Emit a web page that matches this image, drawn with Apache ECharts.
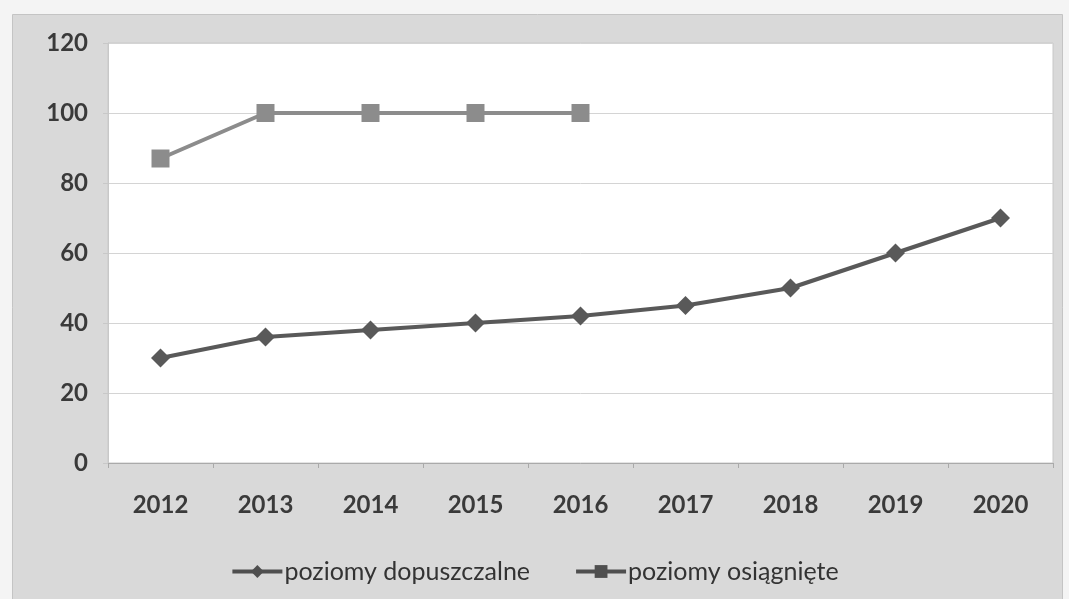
<!DOCTYPE html>
<html>
<head>
<meta charset="utf-8">
<script src="https://cdn.jsdelivr.net/npm/echarts@6/dist/echarts.min.js"></script>
<style>
  html, body { margin: 0; padding: 0; background: #f4f4f4; }
  #chart { width: 1069px; height: 599px; }
</style>
</head>
<body>
<div id="chart"></div>
<script>
// data
const years = ['2012', '2013', '2014', '2015', '2016', '2017', '2018', '2019', '2020'];
const dopuszczalne = [30, 36, 38, 40, 42, 45, 50, 60, 70];
const osiagniete = [87, 100, 100, 100, 100];
const seriesNames = ['poziomy dopuszczalne', 'poziomy osiągnięte'];

let chartDom = document.getElementById('chart');
let myChart = echarts.init(chartDom);
let option;

const font = 'Lato, "Open Sans", sans-serif';

option = {
  animation: false,
  backgroundColor: '#f4f4f4',
  graphic: [
    {
      type: 'rect',
      left: 12, top: 14, z: -10,
      shape: { width: 1050, height: 590 },
      style: { fill: '#d9d9d9', stroke: '#c4c4c4', lineWidth: 1 }
    }
  ],
  grid: {
    left: 108,
    top: 43,
    width: 945,
    height: 420,
    show: true,
    backgroundColor: '#ffffff',
    borderColor: '#c8c8c8',
    borderWidth: 1
  },
  legend: {
    bottom: 10,
    left: 'center',
    itemWidth: 50,
    itemHeight: 16,
    itemGap: 44,
    lineStyle: { width: 4, color: '#4f4f4f' },
    itemStyle: { color: '#4f4f4f' },
    textStyle: { fontFamily: font, fontSize: 25, color: '#333', padding: [0, 0, 0, -3] },
    data: seriesNames
  },
  xAxis: {
    type: 'category',
    data: years,
    boundaryGap: true,
    axisLine: { lineStyle: { color: '#aaaaaa', width: 1 } },
    axisTick: { show: true, length: 5, lineStyle: { color: '#aaaaaa' } },
    axisLabel: { fontFamily: font, fontSize: 24, fontWeight: 'bold', color: '#3a3a3a', margin: 30 }
  },
  yAxis: {
    type: 'value',
    min: 0,
    max: 120,
    interval: 20,
    axisLine: { show: true, lineStyle: { color: '#c8c8c8' } },
    axisTick: { show: true, length: 5, lineStyle: { color: '#c8c8c8' } },
    splitLine: { lineStyle: { color: '#d4d4d4', width: 1 } },
    axisLabel: { fontFamily: font, fontSize: 24, fontWeight: 'bold', color: '#3a3a3a', margin: 20 }
  },
  series: [
    {
      name: seriesNames[0],
      type: 'line',
      data: dopuszczalne,
      symbol: 'diamond',
      symbolSize: 19,
      itemStyle: { color: '#595959' },
      lineStyle: { color: '#595959', width: 4 }
    },
    {
      name: seriesNames[1],
      type: 'line',
      data: osiagniete,
      symbol: 'rect',
      symbolSize: 18,
      itemStyle: { color: '#8c8c8c' },
      lineStyle: { color: '#8c8c8c', width: 4 }
    }
  ]
};
myChart.setOption(option);
</script>
</body>
</html>
